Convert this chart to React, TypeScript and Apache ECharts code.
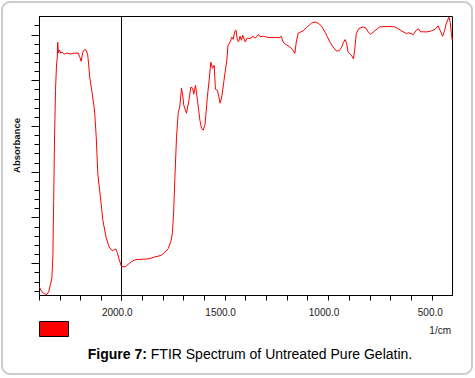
import { useEffect, useRef } from 'react';
import * as echarts from 'echarts';

// FTIR spectrum (wavenumber in 1/cm, relative absorbance)
const wavenumbers = [
  4000, 3941, 3885, 3824, 3776, 3739, 3698, 3673, 3654, 3634, 3610, 3585, 3568, 3556, 3537, 3512,
  3483, 3446, 3398, 3324, 3251, 3154, 3056, 3020, 2983, 2946, 2902, 2861, 2824, 2800, 2776, 2715,
  2659, 2617, 2576, 2520, 2454, 2373, 2300, 2227, 2178, 2141, 2104, 2056, 2000,
  1982, 1968, 1952, 1934, 1919, 1895, 1871, 1857, 1839, 1823, 1807, 1789, 1774, 1761, 1754, 1748,
  1742, 1734, 1726, 1718, 1710, 1704, 1699, 1686, 1674, 1665, 1656, 1651, 1642, 1633, 1621, 1613,
  1605, 1596, 1585, 1575, 1568, 1560, 1552, 1546, 1536, 1523, 1514, 1500, 1491, 1485, 1475, 1467,
  1460, 1452, 1446, 1440, 1434, 1427, 1420, 1414, 1402, 1393, 1378, 1364, 1354, 1338, 1330, 1314,
  1296, 1282, 1257, 1235, 1228, 1219, 1204, 1186, 1173, 1162, 1155, 1146, 1132, 1122, 1106, 1093,
  1081, 1064, 1047, 1035, 1026, 1016, 1006, 993, 977, 961, 948, 936, 927, 919, 912, 905,
  889, 879, 873, 865, 853, 832, 818, 808, 795, 776, 752, 726, 702, 679, 663, 644,
  623, 610, 590, 575, 564, 555, 542, 526, 502, 484, 470, 458, 448, 439, 430, 422,
  417, 411, 406, 401,
];
const absorbance = [
  -0.26, -0.31, -0.33, -0.34, -0.31, -0.24, -0.16, 0.09, 0.69, 1.35, 1.89, 2.17, 2.24, 2.42, 2.3, 2.33,
  2.3, 2.31, 2.29, 2.3, 2.29, 2.3, 2.3, 2.26, 2.21, 2.31, 2.34, 2.33, 2.28, 2.17, 2.04, 1.86,
  1.68, 1.39, 0.97, 0.75, 0.47, 0.28, 0.18, 0.14, 0.15, 0.16, 0.12, 0.04, -0.035,
  -0.035, -0.01, 0.02, 0.04, 0.044, 0.047, 0.05, 0.058, 0.072, 0.08, 0.091, 0.123, 0.164, 0.244, 0.331, 0.561,
  0.932, 1.38, 1.643, 1.719, 1.916, 1.839, 1.73, 1.643, 1.785, 1.927, 1.916, 1.85, 1.948, 1.785, 1.566, 1.479,
  1.457, 1.522, 1.817, 2.036, 2.2, 2.134, 2.167, 1.905, 1.894, 1.752, 1.839, 2.08, 2.222, 2.386, 2.422, 2.473,
  2.451, 2.539, 2.55, 2.44, 2.424, 2.484, 2.44, 2.495, 2.422, 2.462, 2.459, 2.484, 2.462, 2.503, 2.479, 2.484,
  2.473, 2.47, 2.47, 2.47, 2.484, 2.422, 2.391, 2.367, 2.337, 2.298, 2.422, 2.517, 2.533, 2.542, 2.579, 2.604,
  2.63, 2.64, 2.623, 2.599, 2.568, 2.528, 2.484, 2.422, 2.367, 2.323, 2.326, 2.364, 2.419, 2.448, 2.408, 2.313,
  2.277, 2.238, 2.331, 2.514, 2.568, 2.586, 2.572, 2.531, 2.506, 2.542, 2.586, 2.59, 2.59, 2.586, 2.568, 2.539,
  2.514, 2.522, 2.501, 2.55, 2.566, 2.533, 2.533, 2.531, 2.542, 2.561, 2.599, 2.539, 2.484, 2.539, 2.623, 2.67,
  2.692, 2.637, 2.528, 2.44,
];

// axis ticks
const xLabelValues = [2000, 1500, 1000, 500];
const yMajorTicks = [0, 0.5, 1, 1.5, 2, 2.5];
const yMinorTicks = [
  -0.3, -0.2, -0.1, 0, 0.1, 0.2, 0.3, 0.4, 0.5, 0.6, 0.7, 0.8, 0.9, 1.0, 1.1, 1.2, 1.3, 1.4, 1.5,
  1.6, 1.7, 1.8, 1.9, 2.0, 2.1, 2.2, 2.3, 2.4, 2.5, 2.6,
];

const xUnit = '1/cm';
const yTitle = 'Absorbance';
const captionBold = 'Figure 7:';
const captionText = ' FTIR Spectrum of Untreated Pure Gelatin.';

const FONT = 'Liberation Sans, Arial, Helvetica, sans-serif';

export default function App() {
  const ref = useRef<HTMLDivElement>(null);

  useEffect(() => {
    if (!ref.current) return;
    const chart = echarts.init(ref.current, null, { renderer: 'svg' });

    const pts = wavenumbers.map((w, i) => [w, absorbance[i]]);
    const leftPts = pts.filter((p) => p[0] >= 2000);
    const rightPts = pts.filter((p) => p[0] <= 2000);

    const yMin = -0.35;
    const yMax = 2.7;

    const option: any = {
      animation: false,
      backgroundColor: '#ffffff',
      grid: [
        {
          left: 39.5, top: 16.5, width: 82, height: 279,
          show: true, borderColor: '#000', borderWidth: 1, backgroundColor: 'transparent',
          containLabel: false,
        },
        {
          left: 121.5, top: 16.5, width: 331, height: 279,
          show: true, borderColor: '#000', borderWidth: 1, backgroundColor: 'transparent',
          containLabel: false,
        },
      ],
      xAxis: [
        {
          type: 'value', gridIndex: 0, inverse: true, min: 2000, max: 4000, interval: 500,
          position: 'bottom',
          axisLine: { show: true, onZero: false, lineStyle: { color: '#000', width: 1 } },
          axisTick: { show: true, length: 5, lineStyle: { color: '#000' } },
          axisLabel: { show: false },
          splitLine: { show: false },
        },
        {
          type: 'value', gridIndex: 1, inverse: true, min: 400, max: 2000, interval: 100,
          position: 'bottom',
          axisLine: { show: true, onZero: false, lineStyle: { color: '#000', width: 1 } },
          axisTick: { show: true, length: 5, lineStyle: { color: '#000' } },
          axisLabel: {
            show: true,
            showMinLabel: false,
            showMaxLabel: true,
            margin: 12,
            fontSize: 10,
            fontFamily: FONT,
            color: '#222',
            align: 'right',
            padding: [0, -11, 0, 0],
            formatter: (v: number) => (xLabelValues.indexOf(v) >= 0 ? v.toFixed(1) : ''),
          },
          splitLine: { show: false },
        },
      ],
      yAxis: [
        {
          type: 'value', gridIndex: 0, min: yMin, max: yMax, position: 'left',
          axisLine: { show: true, onZero: false, lineStyle: { color: '#000', width: 1 } },
          axisTick: { show: true, length: 8, customValues: yMajorTicks, lineStyle: { color: '#000' } },
          axisLabel: { show: false },
          splitLine: { show: false },
        },
        {
          type: 'value', gridIndex: 1, min: yMin, max: yMax, show: false,
          axisLine: { onZero: false },
          splitLine: { show: false },
        },
        {
          type: 'value', gridIndex: 0, min: yMin, max: yMax, position: 'left', offset: 0,
          axisLine: { show: false, onZero: false },
          axisTick: { show: true, length: 5, customValues: yMinorTicks, lineStyle: { color: '#000' } },
          axisLabel: { show: false },
          splitLine: { show: false },
        },
      ],
      series: [
        {
          type: 'line', xAxisIndex: 0, yAxisIndex: 0, data: leftPts,
          showSymbol: false, symbol: 'none', smooth: false, clip: true,
          lineStyle: { color: '#ff0000', width: 1 },
        },
        {
          type: 'line', xAxisIndex: 1, yAxisIndex: 1, data: rightPts,
          showSymbol: false, symbol: 'none', smooth: false, clip: true,
          lineStyle: { color: '#ff0000', width: 1 },
        },
      ],
      graphic: [
        {
          type: 'rect', silent: true,
          shape: { x: 2, y: 2, width: 470, height: 372, r: 8 },
          style: { fill: 'none', stroke: '#cccccc', lineWidth: 2 },
        },
        {
          type: 'rect', silent: true,
          shape: { x: 39.5, y: 321.5, width: 29, height: 15 },
          style: { fill: '#ff0000', stroke: '#000', lineWidth: 1 },
        },
        {
          type: 'text', silent: true, x: 451, y: 330,
          style: {
            text: xUnit, align: 'right', verticalAlign: 'middle',
            fontSize: 10, fontFamily: FONT, fill: '#222',
          },
        },
        {
          type: 'text', silent: true, x: 16, y: 145.5, rotation: Math.PI / 2,
          style: {
            text: yTitle, align: 'center', verticalAlign: 'middle',
            fontSize: 9.5, fontWeight: 'bold', fontFamily: FONT, fill: '#111',
          },
        },
        {
          type: 'text', silent: true, x: 250, y: 354,
          style: {
            text: '{b|' + captionBold + '}{n|' + captionText + '}',
            align: 'center', verticalAlign: 'middle',
            rich: {
              b: { fontSize: 14, fontWeight: 'bold', fontFamily: FONT, fill: '#000' },
              n: { fontSize: 14, fontFamily: FONT, fill: '#000' },
            },
          },
        },
      ],
    };

    chart.setOption(option);
    return () => chart.dispose();
  }, []);

  return (
    <div
      ref={ref}
      style={{ position: 'fixed', left: 0, top: 0, width: 475, height: 378, background: '#fff' }}
    />
  );
}
